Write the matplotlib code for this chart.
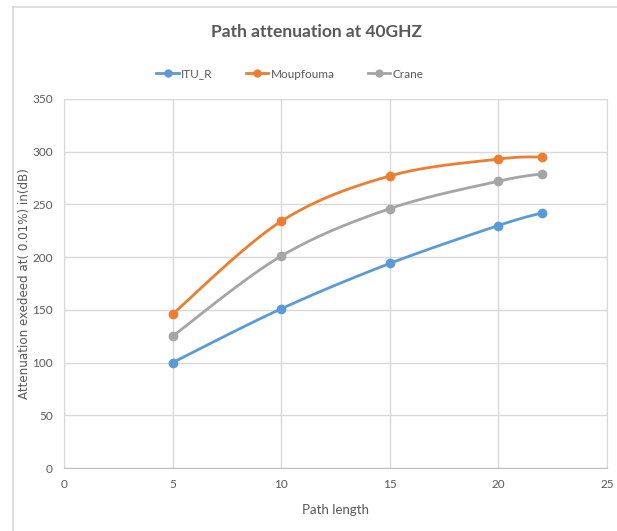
import numpy as np
import matplotlib
matplotlib.use("Agg")
import matplotlib.pyplot as plt
from matplotlib.lines import Line2D

# ======================
# DATA
# ======================
path_length = [5, 10, 15, 20, 22]
itu_r = [100, 151, 194, 230, 242]
moupfouma = [146, 234, 277, 293, 295]
crane = [125, 201, 246, 272, 279]

series_names = ["ITU_R", "Moupfouma", "Crane"]
series_colors = ["#5B9BD5", "#ED7D31", "#A5A5A5"]


def smooth(xs, ys, n=30):
    # Excel-like smoothed line: cubic bezier with catmull-rom control points
    xs = np.asarray(xs, float)
    ys = np.asarray(ys, float)
    px = np.concatenate([[xs[0]], xs, [xs[-1]]])
    py = np.concatenate([[ys[0]], ys, [ys[-1]]])
    outx, outy = [], []
    t = np.linspace(0, 1, n)
    for i in range(1, len(px) - 2):
        p0 = np.array([px[i], py[i]])
        p3 = np.array([px[i + 1], py[i + 1]])
        c1 = p0 + (np.array([px[i + 1], py[i + 1]]) - np.array([px[i - 1], py[i - 1]])) / 6
        c2 = p3 - (np.array([px[i + 2], py[i + 2]]) - np.array([px[i], py[i]])) / 6
        b = ((1 - t) ** 3)[:, None] * p0 + (3 * (1 - t) ** 2 * t)[:, None] * c1 \
            + (3 * (1 - t) * t ** 2)[:, None] * c2 + (t ** 3)[:, None] * p3
        outx.extend(b[:, 0])
        outy.extend(b[:, 1])
    return outx, outy


plt.rcParams["font.family"] = ["Lato", "DejaVu Sans"]
txt = "#595959"
grid = "#D9D9D9"

fig = plt.figure(figsize=(6.17, 5.31), dpi=100)
ax = fig.add_axes([0.1037, 0.1186, 0.8801, 0.695])

# outer chart frame (left and top edges visible)
fig.add_artist(Line2D([13 / 617, 13 / 617], [0, 1 - 7 / 531], color=grid, lw=1.2))
fig.add_artist(Line2D([13 / 617, 1], [1 - 7 / 531, 1 - 7 / 531], color=grid, lw=1.2))

for ys, name, col in zip([itu_r, moupfouma, crane], series_names, series_colors):
    sx, sy = smooth(path_length, ys)
    ax.plot(sx, sy, color=col, lw=2, zorder=3)
    ax.plot(path_length, ys, "o", color=col, ms=6, zorder=4)

ax.set_xlim(0, 25)
ax.set_ylim(0, 350)
ax.set_xticks(range(0, 26, 5))
ax.set_yticks(range(0, 351, 50))
ax.grid(True, color=grid, lw=1)
ax.set_axisbelow(True)
for s in ax.spines.values():
    s.set_color(grid)
ax.spines["bottom"].set_color("#BFBFBF")
ax.tick_params(length=0, colors=txt, labelsize=8.5, pad=8)

ax.set_xlabel("Path length", color=txt, fontsize=9.5, labelpad=10)
ax.set_ylabel("Attenuation exedeed at( 0.01%) in(dB)", color=txt, fontsize=8.6,
              family="DejaVu Sans")
ax.yaxis.set_label_coords(-0.061, 0.5)

fig.text(0.513, 1 - 32 / 531, "Path attenuation at 40GHZ", ha="center", va="center",
         fontsize=12.5, fontweight="bold", color=txt)

handles = [Line2D([], [], color=c, lw=2, marker="o", ms=5) for c in series_colors]
fig.legend(handles, series_names, loc="center", bbox_to_anchor=(0.47, 1 - 74 / 531),
           ncol=3, frameon=False, fontsize=8.5, labelcolor=txt, handlelength=1.9,
           columnspacing=2.8, handletextpad=0.2)

fig.savefig("out.png", dpi=100)
